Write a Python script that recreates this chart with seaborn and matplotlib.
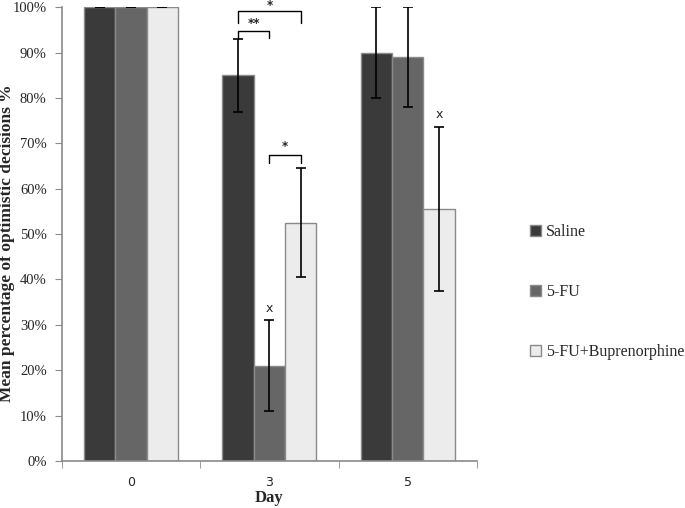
import pandas as pd
import seaborn as sns
import matplotlib.pyplot as plt
from matplotlib.ticker import PercentFormatter, FixedLocator

days = ['0', '3', '5']
groups = ['Saline', '5-FU', '5-FU+Buprenorphine']
saline = [100, 85, 90]
fu = [100, 21, 89]
fu_bup = [100, 52.5, 55.5]
saline_err = [0, 8, 10]
fu_err = [0, 10, 11]
fu_bup_err = [0, 12, 18]

df = pd.DataFrame({
    'Day': days * 3,
    'Group': [g for g in groups for _ in days],
    'Value': saline + fu + fu_bup,
    'Err': saline_err + fu_err + fu_bup_err,
})

sns.set_style('white')
plt.rcParams['font.family'] = ['Liberation Serif', 'DejaVu Serif']

fig = plt.figure(figsize=(6.85, 5.08), dpi=100)
ax = fig.add_axes([0.0905, 0.0925, 0.6055, 0.8935])

palette = ['#3a3a3a', '#666666', '#ececec']
sns.barplot(data=df, x='Day', y='Value', hue='Group', palette=palette,
            errorbar=None, width=0.68, edgecolor='#8a8a8a', linewidth=1,
            saturation=1, ax=ax)

# error bars at bar centres
centres = {}
for cont, g in zip(ax.containers, groups):
    sub = df[df['Group'] == g]
    xs = [b.get_x() + b.get_width() / 2 for b in cont]
    centres[g] = xs
    ax.errorbar(xs, sub['Value'], yerr=sub['Err'], fmt='none', ecolor='black',
                elinewidth=1.2, capsize=3.5, capthick=1.2, zorder=5)

def bracket(x1, x2, y, h, text, ty):
    ax.plot([x1, x1, x2, x2], [y - h, y, y, y - h], color='black', lw=1, clip_on=False)
    ax.text((x1 + x2) / 2, ty, text, ha='center', va='center', fontsize=8.5,
            fontweight='bold', family='DejaVu Sans', clip_on=False)

s3, f3, b3 = centres['Saline'][1], centres['5-FU'][1], centres['5-FU+Buprenorphine'][1]
bracket(s3, b3, 99.2, 2.8, '*', 100.3)
bracket(s3, f3, 94.8, 1.5, '**', 96.3)
bracket(f3, b3, 67.5, 1.8, '*', 69.2)
ax.text(f3, 32.2, 'x', ha='center', va='bottom', fontsize=9, family='DejaVu Sans')
ax.text(centres['5-FU+Buprenorphine'][2], 74.8, 'x', ha='center', va='bottom',
        fontsize=9, family='DejaVu Sans')

ax.set_ylim(0, 100)
ax.set_xlim(-0.5, 2.5)
ax.yaxis.set_major_locator(FixedLocator(range(0, 101, 10)))
ax.yaxis.set_major_formatter(PercentFormatter(decimals=0))
ax.tick_params(axis='y', left=True, length=5, color='#8a8a8a', labelsize=10.5, pad=6)
ax.tick_params(axis='x', which='major', bottom=False, labelsize=10, pad=7)
ax.set_xticks([-0.5, 0.5, 1.5, 2.5], minor=True)
ax.tick_params(axis='x', which='minor', bottom=True, length=5, color='#8a8a8a')
for lab in ax.get_xticklabels():
    lab.set_family('DejaVu Sans')
    lab.set_fontsize(9)

for side in ['top', 'right']:
    ax.spines[side].set_visible(False)
for side in ['left', 'bottom']:
    ax.spines[side].set_color('#8a8a8a')
    ax.spines[side].set_linewidth(1.2)

ax.set_xlabel('Day', fontsize=12, fontweight='bold', labelpad=1)
ax.set_ylabel('Mean percentage of optimistic decisions %', fontsize=12.5,
              fontweight='bold')
ax.yaxis.set_label_coords(-0.114, 0.48)

ax.legend(loc='center left', bbox_to_anchor=(0.773, 0.425), bbox_transform=fig.transFigure,
          frameon=False, fontsize=11.5, labelspacing=2.75, handlelength=0.75,
          handleheight=0.75, handletextpad=0.3, borderpad=0, borderaxespad=0,
          title=None)

plt.savefig('out.png', dpi=100)
